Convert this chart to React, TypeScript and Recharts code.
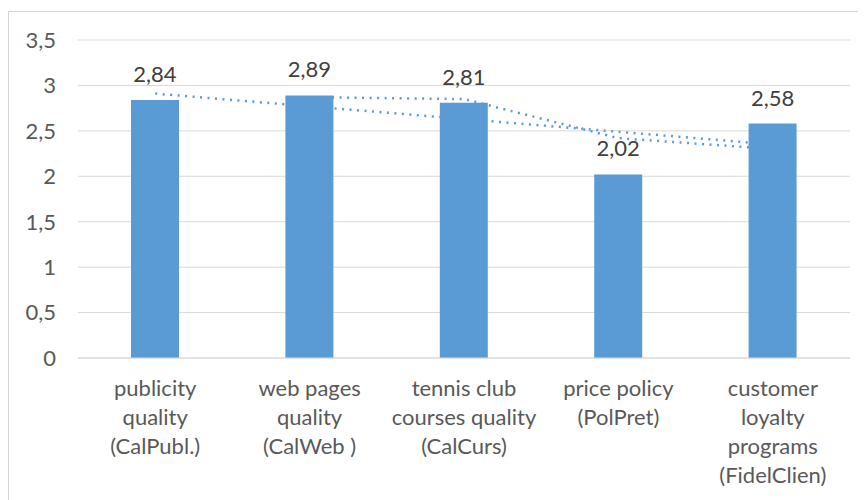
import { ComposedChart, Bar, Line, XAxis, YAxis, CartesianGrid, LabelList } from "recharts";

const categoryLines = [
  ["publicity", "quality", "(CalPubl.)"],
  ["web pages", "quality", "(CalWeb )"],
  ["tennis club", "courses quality", "(CalCurs)"],
  ["price policy", "(PolPret)"],
  ["customer", "loyalty", "programs", "(FidelClien)"],
];
const scores = [2.84, 2.89, 2.81, 2.02, 2.58];
// dotted trendlines
const linearTrend = [2.91, 2.77, 2.63, 2.49, 2.35];
const movingAverage = [null, 2.87, 2.85, 2.42, 2.3];
const yTicks = [0, 0.5, 1, 1.5, 2, 2.5, 3, 3.5];

const BLUE = "#5B9BD5";
const GRID = "#D9D9D9";
const FONT = "Lato, 'Open Sans', sans-serif";

const data = categoryLines.map((lines, i) => ({
  name: lines.join(" "),
  idx: i,
  score: scores[i],
  trend: linearTrend[i],
  avg: movingAverage[i],
}));

const comma = (v: number | string) => String(v).replace(".", ",");

function CategoryTick(props: any) {
  const { x, y, payload } = props;
  const lines = categoryLines[payload.index] ?? [String(payload.value)];
  return (
    <text x={x} y={y} textAnchor="middle" fill="#595959" fontSize={22} fontFamily={FONT}>
      {lines.map((line, i) => (
        <tspan key={i} x={x} dy={i === 0 ? 38 : 29}>
          {line}
        </tspan>
      ))}
    </text>
  );
}

export default function App() {
  return (
    <div style={{ paddingTop: 3 }}>
      <div style={{ width: 870, height: 500, border: "1px solid #D4D4D4", boxSizing: "border-box" }}>
        <ComposedChart width={857} height={488} data={data} margin={{ top: 28, right: 16, bottom: 12, left: 0 }}>
          <CartesianGrid vertical={false} stroke={GRID} />
          <XAxis
            dataKey="name"
            height={130}
            interval={0}
            tickLine={false}
            tickSize={0}
            tickMargin={0}
            axisLine={{ stroke: GRID }}
            tick={<CategoryTick />}
          />
          <YAxis
            width={69}
            domain={[0, 3.5]}
            ticks={yTicks}
            axisLine={false}
            tickLine={false}
            tickSize={0}
            tickMargin={22}
            tickFormatter={comma}
            tick={{ fill: "#595959", fontSize: 22, fontFamily: FONT }}
          />
          <Bar dataKey="score" fill={BLUE} barSize={48} isAnimationActive={false}>
            <LabelList
              dataKey="score"
              position="top"
              offset={18}
              formatter={(v: any) => comma(v)}
              fill="#404040"
              fontSize={22}
              fontFamily={FONT}
            />
          </Bar>
          <Line
            dataKey="trend"
            stroke={BLUE}
            strokeWidth={2.5}
            strokeDasharray="2 5.5"
            dot={false}
            activeDot={false}
            isAnimationActive={false}
          />
          <Line
            dataKey="avg"
            stroke={BLUE}
            strokeWidth={2.5}
            strokeDasharray="2 5.5"
            dot={false}
            activeDot={false}
            connectNulls
            isAnimationActive={false}
          />
        </ComposedChart>
      </div>
    </div>
  );
}
